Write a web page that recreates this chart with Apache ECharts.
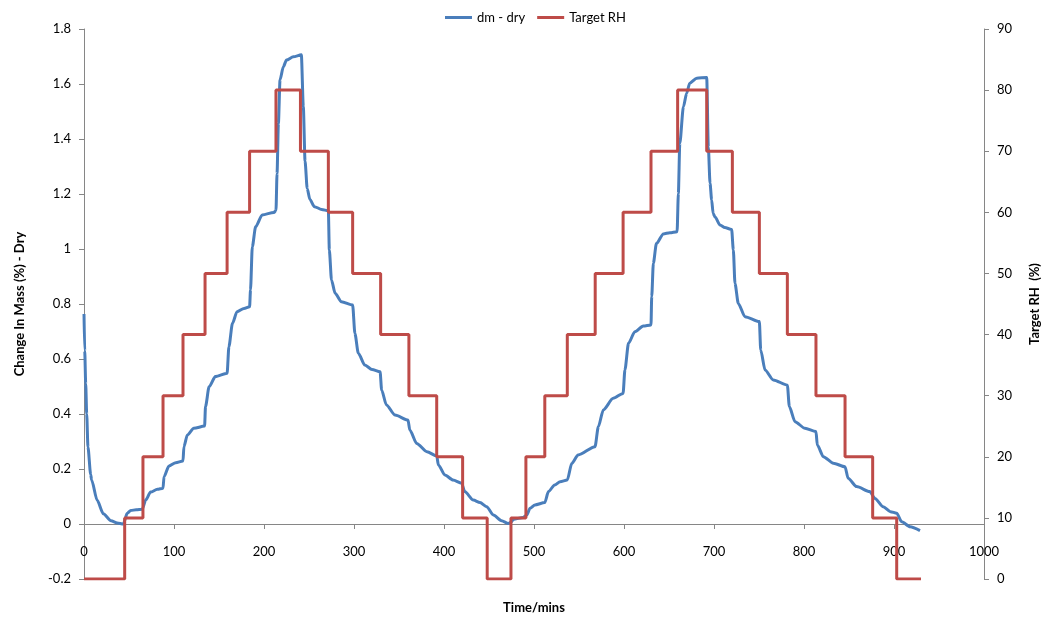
<!DOCTYPE html>
<html>
<head>
<meta charset="utf-8">
<script src="https://cdn.jsdelivr.net/npm/echarts@6/dist/echarts.min.js"></script>
<style>
  html, body { margin: 0; padding: 0; background: #fff; }
  #chart { width: 1049px; height: 621px; }
</style>
</head>
<body>
<div id="chart"></div>
<script>
// Time (minutes) of each mass-change reading
const timeMins = [
  0, 0.8, 1.9, 3.0, 4.4, 7.4, 8.5, 14.5, 21.5, 30, 37, 43.7,
  48, 52, 58, 64.8, 68.5, 74, 81.5, 87.8, 88.9, 94.4, 101.9, 110,
  111, 114.8, 122, 134, 135, 139, 146, 159, 161, 165, 170, 177.8, 184,
  185, 187, 190.7, 198, 211, 213.3, 214.5, 216, 217.8, 221.5, 225, 232.6, 241.5,
  243.7, 245.6, 248, 251, 256, 264, 271.5, 272.6, 275, 279, 286, 298.5,
  301, 304.8, 312, 320, 329, 330.7, 336, 345.6, 360, 362, 369.7, 381, 392,
  393.7, 401, 410, 419.6, 423, 432.6, 440, 447.4, 454.8, 464, 471.5,
  475, 477, 488, 492, 495.6, 501, 512, 516, 523, 529, 537, 541.9, 549, 567.8,
  571.5, 577, 588, 599, 601, 605, 612, 621.5, 630, 630.8, 632.6, 636, 643.7,
  651, 659, 660.4, 662, 666, 669.6, 673, 680.8, 691.9, 693.7, 695.6, 697.4,
  699, 701, 706.7, 712, 719.6, 721.5, 723.3, 727, 734.4, 750.4, 751.9, 756.7,
  765.9, 781.5, 783.7, 790, 801, 813.3, 814.8, 821.5, 832.6, 845.6, 849,
  858.5, 873, 878.9, 888, 896, 903, 908.6, 917.8, 928.9
];

// Change in mass relative to dry mass (%)
const dmDry = [
  0.764, 0.63, 0.51, 0.40, 0.28, 0.18, 0.16, 0.087, 0.037, 0.012, 0.004, 0.0,
  0.039, 0.049, 0.052, 0.054, 0.087, 0.116, 0.126, 0.13, 0.172, 0.211, 0.223, 0.229,
  0.281, 0.324, 0.348, 0.356, 0.427, 0.499, 0.536, 0.548, 0.645, 0.73, 0.772, 0.784, 0.79,
  0.851, 1.008, 1.081, 1.124, 1.133, 1.14, 1.275, 1.457, 1.615, 1.663, 1.687, 1.699, 1.706,
  1.517, 1.32, 1.22, 1.18, 1.154, 1.144, 1.139, 0.996, 0.887, 0.839, 0.808, 0.796,
  0.693, 0.621, 0.578, 0.562, 0.554, 0.487, 0.433, 0.396, 0.378, 0.342, 0.293, 0.263, 0.247,
  0.215, 0.178, 0.160, 0.148, 0.118, 0.087, 0.078, 0.063, 0.033, 0.012, 0.002,
  0.008, 0.017, 0.024, 0.033, 0.057, 0.069, 0.078, 0.118, 0.142, 0.154, 0.16, 0.22, 0.251, 0.281,
  0.354, 0.415, 0.457, 0.475, 0.56, 0.657, 0.699, 0.72, 0.724, 0.827, 0.948, 1.02, 1.055,
  1.059, 1.063, 1.202, 1.384, 1.517, 1.566, 1.603, 1.621, 1.624, 1.37, 1.239, 1.178,
  1.13, 1.117, 1.087, 1.078, 1.071, 0.996, 0.875, 0.802, 0.754, 0.736, 0.633, 0.56,
  0.524, 0.505, 0.427, 0.372, 0.348, 0.336, 0.287, 0.245, 0.221, 0.208, 0.166,
  0.136, 0.118, 0.093, 0.063, 0.045, 0.039, 0.008, -0.01, -0.024
];

// Target RH programme: time each step starts (minutes) and its level (%)
const rhStepTimes = [
  0, 45.2, 65.5, 87.8, 110, 134.5, 159, 184, 213.3, 240.5, 271.5, 298.5, 329.6,
  361, 391.9, 420.7, 448, 474.4, 491, 512, 537, 568, 599, 630, 659.6, 691.9,
  720.4, 750.4, 781.5, 813.3, 845.6, 876.3, 903, 930
];
const rhLevels = [
  0, 10, 20, 30, 40, 50, 60, 70, 80, 70, 60, 50, 40,
  30, 20, 10, 0, 10, 20, 30, 40, 50, 60, 70, 80, 70,
  60, 50, 40, 30, 20, 10, 0, 0
];

const seriesNames = ['dm - dry', 'Target RH'];
const axisTitles = { x: 'Time/mins', left: 'Change In Mass (%) - Dry', right: 'Target RH  (%)' };

const FONT = 'Lato, "Open Sans", sans-serif';
const AXIS_GREY = '#868686';
const BLUE = '#4A7EBB';
const RED = '#BE4B48';

const massPoints = timeMins.map((t, i) => [t, dmDry[i]]);
const rhPoints = rhStepTimes.map((t, i) => [t, rhLevels[i]]);

const chart = echarts.init(document.getElementById('chart'), null, { renderer: 'canvas' });

const axisCommon = {
  axisLine: { show: true, lineStyle: { color: AXIS_GREY, width: 1 } },
  axisTick: { show: true, length: 5, inside: false, lineStyle: { color: AXIS_GREY } },
  splitLine: { show: false },
  axisLabel: { color: '#000', fontFamily: FONT, fontSize: 13 },
  nameTextStyle: { color: '#000', fontFamily: FONT, fontSize: 13, fontWeight: 'bold' }
};

chart.setOption({
  backgroundColor: '#fff',
  animation: false,
  textStyle: { fontFamily: FONT },
  legend: {
    top: 6,
    left: 440,
    icon: 'rect',
    itemWidth: 27,
    itemHeight: 3,
    itemGap: 12,
    textStyle: { color: '#000', fontFamily: FONT, fontSize: 13 },
    data: [
      { name: seriesNames[0], itemStyle: { color: BLUE } },
      { name: seriesNames[1], itemStyle: { color: RED } }
    ]
  },
  grid: { left: 84, right: 65, top: 29, bottom: 42, containLabel: false, outerBoundsMode: 'none' },
  xAxis: Object.assign({}, axisCommon, {
    type: 'value',
    min: 0, max: 1000, interval: 100,
    name: axisTitles.x,
    nameLocation: 'middle',
    nameGap: 22,
    axisLine: { show: true, onZero: true, onZeroAxisIndex: 0, lineStyle: { color: AXIS_GREY, width: 1 } },
    // tick labels sit just under the zero line, well above the plot's lower edge
    axisLabel: Object.assign({}, axisCommon.axisLabel, { margin: -34, formatter: v => String(v) })
  }),
  yAxis: [
    Object.assign({}, axisCommon, {
      type: 'value',
      position: 'left',
      min: -0.2, max: 1.8, interval: 0.2,
      name: axisTitles.left,
      nameLocation: 'middle',
      nameRotate: 90,
      nameGap: 58,
      axisLabel: Object.assign({}, axisCommon.axisLabel, {
        margin: 13,
        formatter: v => String(Math.round(v * 10) / 10)
      })
    }),
    Object.assign({}, axisCommon, {
      type: 'value',
      position: 'right',
      min: 0, max: 90, interval: 10,
      name: axisTitles.right,
      nameLocation: 'middle',
      nameRotate: 90,
      nameGap: 44,
      axisLabel: Object.assign({}, axisCommon.axisLabel, { margin: 13 })
    })
  ],
  series: [
    {
      name: seriesNames[0],
      type: 'line',
      yAxisIndex: 0,
      data: massPoints,
      showSymbol: false,
      symbol: 'none',
      smooth: 0.25,
      smoothMonotone: 'x',
      lineStyle: { color: BLUE, width: 3 },
      itemStyle: { color: BLUE },
      z: 2
    },
    {
      name: seriesNames[1],
      type: 'line',
      yAxisIndex: 1,
      data: rhPoints,
      step: 'end',
      showSymbol: false,
      symbol: 'none',
      lineStyle: { color: RED, width: 3 },
      itemStyle: { color: RED },
      z: 3
    }
  ]
});
</script>
</body>
</html>
